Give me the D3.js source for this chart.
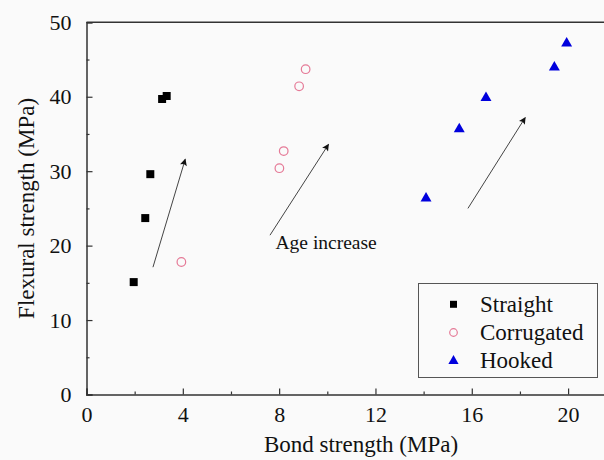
<!DOCTYPE html>
<html><head><meta charset="utf-8">
<script src="https://cdn.jsdelivr.net/npm/d3@7"></script>
<style>
html,body{margin:0;padding:0;background:#fafafa;}
svg{display:block;}
</style></head>
<body>
<script>
// ---- data ----
const straightX = [1.96, 2.44, 2.65, 3.14, 3.33];
const straightY = [15.1, 23.7, 29.6, 39.7, 40.1];
const corrugatedX = [3.94, 8.01, 8.19, 8.83, 9.10];
const corrugatedY = [17.8, 30.4, 32.7, 41.4, 43.7];
const hookedX = [14.10, 15.48, 16.59, 19.43, 19.94];
const hookedY = [26.5, 35.8, 40.0, 44.1, 47.3];
const seriesNames = ["Straight", "Corrugated", "Hooked"];
const xTicks = [0, 4, 8, 12, 16, 20];
const yTicks = [0, 10, 20, 30, 40, 50];
const arrowStart = [[2.76, 17.1], [7.62, 21.4], [15.84, 25.0]];
const arrowEnd = [[4.10, 31.6], [10.05, 33.6], [18.22, 37.2]];
const annotation = {text: "Age increase", x: 7.85, y: 19.5};
const xTitle = "Bond strength (MPa)";
const yTitle = "Flexural strength (MPa)";

const FONT = "'Liberation Serif'";
const W = 604, H = 460;
const svg = d3.select("body").append("svg").attr("width", W).attr("height", H);
svg.append("rect").attr("width", W).attr("height", H).attr("fill", "#fafafa");

const x = d3.scaleLinear().domain([0, 22]).range([86.5, 86.5 + 22 * 24.08]);
const y = d3.scaleLinear().domain([0, 50]).range([394.5, 22.3]);

const defs = svg.append("defs");
defs.append("marker").attr("id", "ah").attr("viewBox", "0 0 10 10")
  .attr("refX", 9).attr("refY", 5).attr("markerWidth", 9).attr("markerHeight", 7)
  .attr("markerUnits", "userSpaceOnUse").attr("orient", "auto")
  .append("path").attr("d", "M0,0 L10,5 L0,10 L2,5 z").attr("fill", "#111");

// frame: top line
svg.append("line").attr("x1", x(0)).attr("x2", x(22)).attr("y1", y(50)).attr("y2", y(50))
  .attr("stroke", "#333").attr("stroke-width", 1.5);

// axes
const xAxis = d3.axisBottom(x).tickValues(xTicks).tickSize(-6).tickPadding(12).tickFormat(d3.format("d"));
const gx = svg.append("g").attr("transform", `translate(0,${y(0)})`).call(xAxis);
const xMinor = d3.axisBottom(x).tickValues([2, 6, 10, 14, 18]).tickSize(-3).tickFormat("");
svg.append("g").attr("transform", `translate(0,${y(0)})`).call(xMinor).select(".domain").remove();

const yAxis = d3.axisLeft(y).tickValues(yTicks).tickSize(-6).tickPadding(15).tickFormat(d3.format("d"));
const gy = svg.append("g").attr("transform", `translate(${x(0)},0)`).call(yAxis);
const yMinor = d3.axisLeft(y).tickValues([5, 15, 25, 35, 45]).tickSize(-3).tickFormat("");
svg.append("g").attr("transform", `translate(${x(0)},0)`).call(yMinor).select(".domain").remove();

svg.selectAll("g").attr("font-family", null).attr("font-size", null);
svg.selectAll(".domain").attr("stroke", "#333").attr("stroke-width", 1.5);
svg.selectAll(".tick line").attr("stroke", "#333").attr("stroke-width", 1.2);
gx.selectAll(".tick text").style("font-size", "22px").style("font-family", FONT).attr("fill", "#111");
gy.selectAll(".tick text").style("font-size", "22px").style("font-family", FONT).attr("fill", "#111");

// titles
svg.append("text").attr("x", 361).attr("y", 452).attr("text-anchor", "middle")
  .style("font-size", "23px").style("font-family", FONT).attr("fill", "#111").text(xTitle);
svg.append("text").attr("transform", `translate(34,${(y(0) + y(50)) / 2}) rotate(-90)`)
  .attr("text-anchor", "middle").style("font-size", "23px").style("font-family", FONT)
  .attr("fill", "#111").text(yTitle);

// arrows
svg.selectAll("line.arrow").data(arrowStart).join("line").attr("class", "arrow")
  .attr("x1", d => x(d[0])).attr("y1", d => y(d[1]))
  .attr("x2", (d, i) => x(arrowEnd[i][0])).attr("y2", (d, i) => y(arrowEnd[i][1]))
  .attr("stroke", "#444").attr("stroke-width", 1).attr("marker-end", "url(#ah)");

svg.append("text").attr("x", x(annotation.x)).attr("y", y(annotation.y))
  .style("font-size", "19.5px").style("font-family", FONT).attr("fill", "#111").text(annotation.text);

// points
const sq = d3.symbol().type(d3.symbolSquare).size(64);
const tri = d3.symbol().type(d3.symbolTriangle).size(52);
svg.selectAll("path.s").data(straightX).join("path").attr("class", "s")
  .attr("d", sq).attr("transform", (d, i) => `translate(${x(d)},${y(straightY[i])})`)
  .attr("fill", "#000");
svg.selectAll("circle.c").data(corrugatedX).join("circle").attr("class", "c")
  .attr("cx", d => x(d)).attr("cy", (d, i) => y(corrugatedY[i])).attr("r", 4.3)
  .attr("fill", "none").attr("stroke", "#e57a97").attr("stroke-width", 1.2);
svg.selectAll("path.h").data(hookedX).join("path").attr("class", "h")
  .attr("d", tri).attr("transform", (d, i) => `translate(${x(d)},${y(hookedY[i]) + 1})`)
  .attr("fill", "#0000dd");

// legend
const lg = svg.append("g");
lg.append("rect").attr("x", 418.5).attr("y", 283.5).attr("width", 179).attr("height", 94)
  .attr("fill", "#fafafa").attr("stroke", "#555").attr("stroke-width", 1);
const rows = [304.3, 332.5, 360];
lg.append("path").attr("d", d3.symbol().type(d3.symbolSquare).size(49))
  .attr("transform", `translate(453.5,${rows[0]})`).attr("fill", "#000");
lg.append("circle").attr("cx", 453.5).attr("cy", rows[1]).attr("r", 3.8)
  .attr("fill", "none").attr("stroke", "#e57a97").attr("stroke-width", 1.2);
lg.append("path").attr("d", d3.symbol().type(d3.symbolTriangle).size(45))
  .attr("transform", `translate(453.5,${rows[2] + 1})`).attr("fill", "#0000dd");
lg.selectAll("text.lt").data(seriesNames).join("text").attr("class", "lt")
  .attr("x", 480).attr("y", (d, i) => rows[i] + 7.5).style("font-size", "23px")
  .style("font-family", FONT).attr("fill", "#111").text(d => d);
</script>
</body></html>
